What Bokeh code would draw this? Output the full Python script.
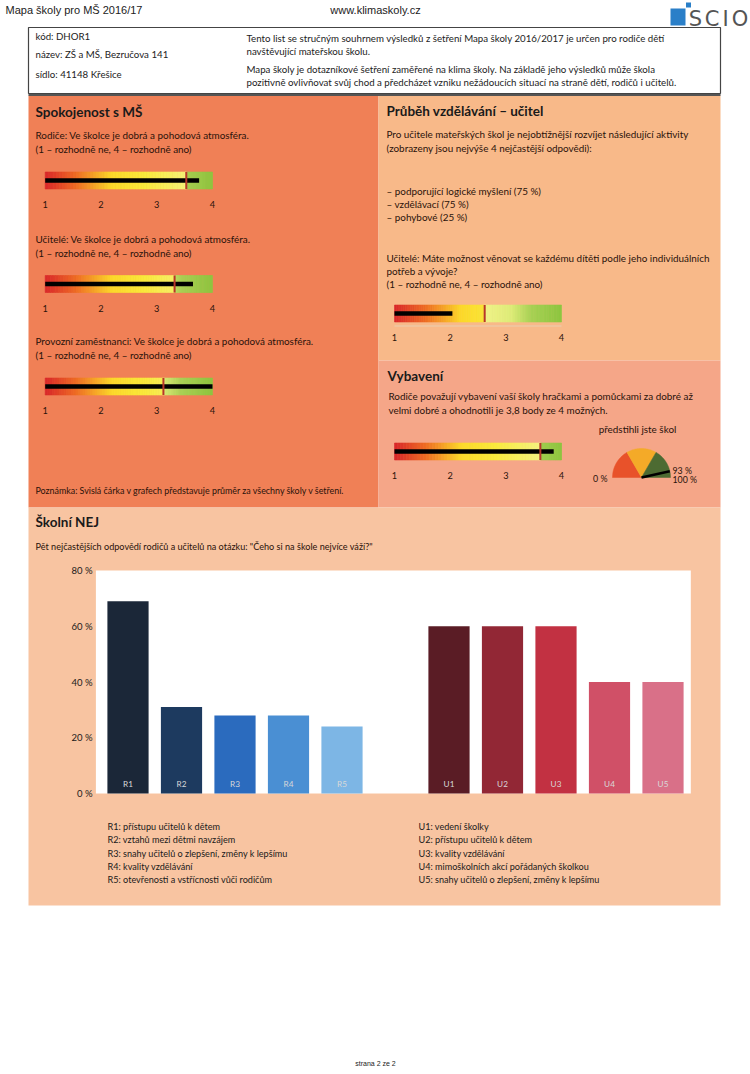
import numpy as np
from bokeh.plotting import figure
from bokeh.models import Range1d
from bokeh.core.properties import value
from bokeh.embed import file_html
from bokeh.resources import INLINE

# ---------------- data ----------------
page_title = "Mapa školy pro MŠ 2016/17"
page_url = "www.klimaskoly.cz"
footer_text = "strana 2 ze 2"
logo_letters = ["S", "C", "I", "O"]
school_info = ["kód: DHOR1", "název: ZŠ a MŠ, Bezručova 141", "sídlo: 41148  Křešice"]
intro_lines = [
    "Tento list se stručným souhrnem výsledků z šetření Mapa školy 2016/2017 je určen pro rodiče dětí",
    "navštěvující mateřskou školu.",
    "Mapa školy je dotazníkové šetření zaměřené na klima školy. Na základě jeho výsledků může škola",
    "pozitivně ovlivňovat svůj chod a předcházet vzniku nežádoucích situací na straně dětí, rodičů i učitelů.",
]
scale_note = "(1 – rozhodně ne, 4 – rozhodně ano)"
gauge_ticks = [1, 2, 3, 4]

sat_title = "Spokojenost s MŠ"
sat_questions = [
    "Rodiče: Ve školce je dobrá a pohodová atmosféra.",
    "Učitelé: Ve školce je dobrá a pohodová atmosféra.",
    "Provozní zaměstnanci: Ve školce je dobrá a pohodová atmosféra.",
]
sat_values = [3.76, 3.65, 4.0]
sat_averages = [3.53, 3.32, 3.12]
sat_note = "Poznámka: Svislá čárka v grafech představuje průměr za všechny školy v šetření."

edu_title = "Průběh vzdělávání – učitel"
edu_intro = [
    "Pro učitele mateřských škol je nejobtížnější rozvíjet následující aktivity",
    "(zobrazeny jsou nejvýše 4 nejčastější odpovědi):",
]
edu_activities = ["podporující logické myšlení", "vzdělávací", "pohybové"]
edu_activity_pct = [75, 75, 25]
edu_question = [
    "Učitelé: Máte možnost věnovat se každému dítěti podle jeho individuálních",
    "potřeb a vývoje?",
]
edu_value = 2.04
edu_average = 2.62

equip_title = "Vybavení"
equip_text = [
    "Rodiče považují vybavení vaší školy hračkami a pomůckami za dobré až",
    "velmi dobré a ohodnotili je 3,8 body ze 4 možných.",
]
equip_value = 3.86
equip_average = 3.62
pie_title = "předstihli jste škol"
pie_breaks = [0, 100 / 3, 200 / 3, 100]
pie_result = 93

nej_title = "Školní NEJ"
nej_subtitle = 'Pět nejčastějších odpovědí rodičů a učitelů na otázku: "Čeho si na škole nejvíce váží?"'
parent_codes = ["R1", "R2", "R3", "R4", "R5"]
parent_values = [69, 31, 28, 28, 24]
teacher_codes = ["U1", "U2", "U3", "U4", "U5"]
teacher_values = [60, 60, 60, 40, 40]
pct_ticks = [0, 20, 40, 60, 80]
parent_legend = [
    "přístupu učitelů k dětem",
    "vztahů mezi dětmi navzájem",
    "snahy učitelů o zlepšení, změny k lepšímu",
    "kvality vzdělávání",
    "otevřenosti a vstřícnosti vůči rodičům",
]
teacher_legend = [
    "vedení školky",
    "přístupu učitelů k dětem",
    "kvality vzdělávání",
    "mimoškolních akcí pořádaných školkou",
    "snahy učitelů o zlepšení, změny k lepšímu",
]

# ---------------- styles ----------------
parent_colors = ["#1B2738", "#1D3A5F", "#2B6BBE", "#4A8FD3", "#7DB6E5"]
teacher_colors = ["#5A1C25", "#922735", "#C23142", "#D05067", "#D97088"]
pie_colors = ["#E8522A", "#F4AA28", "#4D6B32"]
C_LEFT = "#F08056"
C_RTOP = "#F8B989"
C_RBOT = "#F5A688"
C_BOT = "#F8C4A1"
TXT = "#2A120A"
DARK = "#1A1A1A"
FONT = "Lato"
BODY = 9.9

W, H = 750, 1074
p = figure(width=W, height=H, x_range=Range1d(0, W), y_range=Range1d(H, 0),
           x_axis_type=None, y_axis_type=None, output_backend="svg",
           toolbar_location=None, min_border=0)
p.grid.visible = False
p.outline_line_color = None
p.background_fill_color = "white"
p.border_fill_color = "white"


def lin_range(a, pa, b, pb, lo, hi):
    k = (b - a) / (pb - pa)
    return Range1d(a + (lo - pa) * k, a + (hi - pa) * k)


p.extra_x_ranges = {
    "gl": lin_range(1, 44.7, 4, 212, 0, W),
    "gr": lin_range(1, 394, 4, 561, 0, W),
    "bx": lin_range(0, 127.5, 10, 662.5, 0, W),
}
p.extra_y_ranges = {"by": lin_range(0, 793, 80, 570, H, 0)}


def txt(x, y, s, size=BODY, color=TXT, bold=False, align="left", font=FONT, **kw):
    if not isinstance(x, list):
        x, y, s = [x], [y], [s]
    p.text(x=x, y=y, text=s, text_font=value(font), text_font_size=f"{size}px",
           text_color=color, text_align=align, text_baseline="middle",
           text_font_style="bold" if bold else "normal", **kw)


def hex2rgb(h):
    return np.array([int(h[i:i + 2], 16) for i in (1, 3, 5)], dtype=float)


def interp(stops, t):
    ts = [s[0] for s in stops]
    cs = [hex2rgb(s[1]) for s in stops]
    out = []
    for tt in t:
        r = np.array([np.interp(tt, ts, [c[k] for c in cs]) for k in range(3)])
        out.append("#%02x%02x%02x" % tuple(int(round(v)) for v in r))
    return out


# colour stops on the 1..4 scale (below / above the average mark)
LOW_STOPS = [(1.0, "#D8262A"), (1.55, "#EE6B24"), (2.2, "#FCD92A"), (2.8, "#F9EA3C"), (3.6, "#F4F27E")]
HIGH_STOPS = [(2.6, "#F2F28A"), (3.1, "#DDED78"), (3.45, "#A8D155"), (4.0, "#8DC63F")]


def gauge(rng, yc, val, avg, axis_line=False):
    half = 8.5
    n1 = 50
    e1 = np.linspace(gauge_ticks[0], avg, n1 + 1)
    c1 = interp(LOW_STOPS, (e1[:-1] + e1[1:]) / 2)
    n2 = 30
    e2 = np.linspace(avg, gauge_ticks[-1], n2 + 1)
    c2 = interp(HIGH_STOPS, (e2[:-1] + e2[1:]) / 2)
    left = list(e1[:-1]) + list(e2[:-1])
    right = list(e1[1:]) + list(e2[1:])
    cols = c1 + c2
    p.quad(left=left, right=right, top=[yc - half] * len(left), bottom=[yc + half] * len(left),
           fill_color=cols, line_color=cols, line_width=0.6, x_range_name=rng)
    if axis_line:
        p.segment(x0=[gauge_ticks[0]], x1=[gauge_ticks[-1]], y0=[yc + half + 4], y1=[yc + half + 4],
                  line_color="#E9CFB0", line_width=1, x_range_name=rng)
    p.segment(x0=[gauge_ticks[0]], x1=[val], y0=[yc], y1=[yc], line_color="black",
              line_width=4.5, x_range_name=rng)
    p.segment(x0=[avg], x1=[avg], y0=[yc - half], y1=[yc + half], line_color="#B8362A",
              line_width=2, x_range_name=rng)
    txt(list(gauge_ticks), [yc + 24] * len(gauge_ticks), [str(t) for t in gauge_ticks],
        size=9.2, align="center", x_range_name=rng)


# ---------------- header ----------------
txt(5, 9, page_title, size=11, color="#222222", font="Liberation Sans")
txt(375, 9, page_url, size=11, color="#222222", align="center", font="Liberation Sans")
p.quad(left=[670], right=[685], top=[8], bottom=[25], fill_color="#2A7FC8", line_color=None)
p.quad(left=[685.5], right=[690.5], top=[2], bottom=[7], fill_color="#2A7FC8", line_color=None)
txt([695, 711.5, 725, 739.5], [18.5] * 4, logo_letters, size=21, color="#555555",
    font="DejaVu Sans", align="center")

p.quad(left=[28], right=[720], top=[27], bottom=[93], fill_color="white",
       line_color="#444444", line_width=1.2)
txt([35] * 3, [35, 53, 73], school_info, size=9.7, color="#222222")
txt([246] * 4, [37, 50, 68, 81], intro_lines, size=9.7, color="#222222")

# ---------------- panels ----------------
p.quad(left=[28], right=[378], top=[95], bottom=[507], fill_color=C_LEFT, line_color=None)
p.quad(left=[378], right=[720], top=[95], bottom=[360], fill_color=C_RTOP, line_color=None)
p.quad(left=[378], right=[720], top=[360], bottom=[507], fill_color=C_RBOT, line_color=None)
p.quad(left=[28], right=[720], top=[507], bottom=[905], fill_color=C_BOT, line_color=None)
p.segment(x0=[28], x1=[720], y0=[94.5], y1=[94.5], line_color="#555555", line_width=2)

# left panel
txt(35, 111, sat_title, size=13.5, color=DARK, bold=True)
q_y = [134, 238, 340]
g_y = [180, 283.5, 386]
for qy, gy, q, v, a in zip(q_y, g_y, sat_questions, sat_values, sat_averages):
    txt([35, 35], [qy, qy + 14], [q, scale_note])
    gauge("gl", gy, v, a)
txt(35, 490, sat_note, size=8.9)

# right top panel
txt(386, 110, edu_title, size=13.5, color=DARK, bold=True)
txt([386, 386], [133, 147], edu_intro)
txt([386] * 3, [190, 203, 216],
    [f"– {a} ({v} %)" for a, v in zip(edu_activities, edu_activity_pct)])
txt([386] * 3, [257, 270, 283], edu_question + [scale_note])
gauge("gr", 313, edu_value, edu_average, axis_line=True)

# right bottom panel
txt(387, 375, equip_title, size=13.5, color=DARK, bold=True)
txt([388, 388], [395, 409], equip_text)
gauge("gr", 451, equip_value, equip_average)
txt(637, 428, pie_title, size=BODY, align="center")

cx, cy, r = 641, 477, 29
for i, col in enumerate(pie_colors):
    pct = np.linspace(pie_breaks[i], pie_breaks[i + 1], 40)
    th = np.pi * (1 - pct / 100)
    xs = [cx] + list(cx + r * np.cos(th))
    ys = [cy] + list(cy - r * np.sin(th))
    p.patch(xs, ys, fill_color=col, line_color=col, line_width=0.5)
thn = np.pi * (1 - pie_result / 100)
p.segment(x0=[cx], y0=[cy], x1=[cx + r * np.cos(thn)], y1=[cy - r * np.sin(thn)],
          line_color="black", line_width=2.5)
txt(cx - r - 5, cy + 1, f"{pie_breaks[0]:.0f} %", size=8.8, align="right")
txt(cx + r + 2, cy - 7, f"{pie_result} %", size=8.8)
txt(cx + r + 2, cy + 2, f"{pie_breaks[-1]:.0f} %", size=8.8)

# ---------------- bottom panel ----------------
txt(35, 521, nej_title, size=13.5, color=DARK, bold=True)
txt(35, 546, nej_subtitle, size=9.1)

codes = parent_codes + teacher_codes
vals = parent_values + teacher_values
cols = parent_colors + teacher_colors
pos = list(range(len(parent_codes))) + [len(parent_codes) + 1 + i for i in range(len(teacher_codes))]
p.quad(left=[pos[0] - 0.6], right=[pos[-1] + 0.52], bottom=[pct_ticks[0]], top=[pct_ticks[-1]],
       fill_color="white", line_color=None, x_range_name="bx", y_range_name="by")
p.vbar(x=pos, top=vals, bottom=0, width=0.77, fill_color=cols, line_color=None,
       x_range_name="bx", y_range_name="by")
txt(pos, [0] * len(pos), codes, size=8.2, color="#D8D8D8", align="center",
    x_range_name="bx", y_range_name="by", y_offset=-10)
txt([92] * len(pct_ticks), pct_ticks, [f"{t} %" for t in pct_ticks], size=9.5,
    color=DARK, align="right", y_range_name="by")

ly = [826 + 13.3 * k for k in range(5)]
txt([107] * 5, ly, [f"{c}: {t}" for c, t in zip(parent_codes, parent_legend)], size=9.1, color=DARK)
txt([418] * 5, ly, [f"{c}: {t}" for c, t in zip(teacher_codes, teacher_legend)], size=9.1, color=DARK)

txt(375, 1063, footer_text, size=7, color="#222222", align="center", font="Liberation Sans")

open("out.html", "w").write(file_html(p, INLINE))
